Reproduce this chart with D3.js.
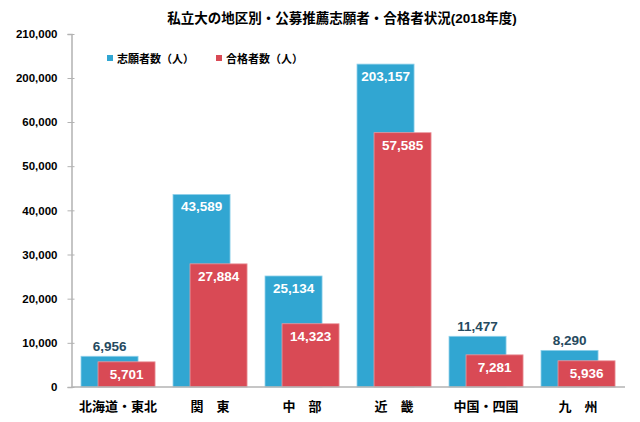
<!DOCTYPE html>
<html>
<head>
<meta charset="utf-8">
<script src="https://cdn.jsdelivr.net/npm/d3@7"></script>
<style>
  body { margin: 0; background: #fff; }
  svg { font-family: "Liberation Sans", "Noto Sans CJK JP", sans-serif; }
</style>
</head>
<body>
<div id="chart"></div>
<script>
const categories = ["北海道・東北", "関　東", "中　部", "近　畿", "中国・四国", "九　州"];
const applicants = [6956, 43589, 25134, 203157, 11477, 8290];
const passed = [5701, 27884, 14323, 57585, 7281, 5936];
const tickValues = [0, 10000, 20000, 30000, 40000, 50000, 60000, 200000, 210000];
const seriesNames = ["志願者数（人）", "合格者数（人）"];

const width = 640, height = 422;
const blue = "#31a6d2", red = "#d94a55";

const svg = d3.select("#chart").append("svg")
  .attr("width", width)
  .attr("height", height);

// broken axis: 0-60,000 linear, then one step each to 200,000 and 210,000
const y = d3.scaleLinear()
  .domain([0, 60000, 200000, 210000])
  .range([387, 122, 78, 34]);

const x = d3.scaleBand()
  .domain(categories)
  .range([72, 624])
  .padding(0);

const bw = x.bandwidth();
const barW = bw * 0.62;

// title
svg.append("text")
  .attr("x", 342)
  .attr("y", 23)
  .attr("text-anchor", "middle")
  .style("font-size", "13.5px")
  .style("font-weight", "bold")
  .text("私立大の地区別・公募推薦志願者・合格者状況(2018年度)");

// y axis
const yAxis = svg.append("g")
  .attr("transform", "translate(71.5,0)")
  .call(d3.axisLeft(y).tickValues(tickValues).tickSize(4).tickPadding(10)
    .tickFormat(d3.format(",")));
yAxis.select(".domain").attr("stroke", "#b3b3b3").attr("stroke-width", 1.5);
yAxis.selectAll(".tick line").attr("stroke", "#b3b3b3").attr("x1", 3);
yAxis.selectAll(".tick text")
  .style("font-size", "11.5px")
  .style("font-weight", "bold")
  .attr("fill", "#000");

// bars
const groups = svg.selectAll(".grp")
  .data(categories)
  .enter()
  .append("g")
  .attr("class", "grp");

groups.append("rect")
  .attr("x", (d) => x(d) + bw * 0.098)
  .attr("y", (d, i) => y(applicants[i]))
  .attr("width", barW)
  .attr("height", (d, i) => y(0) - y(applicants[i]))
  .attr("fill", blue)
  .attr("stroke", "#8fd0ea")
  .attr("stroke-width", 0.8);

groups.append("rect")
  .attr("x", (d) => x(d) + bw * 0.283)
  .attr("y", (d, i) => y(passed[i]))
  .attr("width", barW)
  .attr("height", (d, i) => y(0) - y(passed[i]))
  .attr("fill", red)
  .attr("stroke", "#eb9aa0")
  .attr("stroke-width", 0.8);

// baseline
svg.append("line")
  .attr("x1", 71.5).attr("x2", 625)
  .attr("y1", y(0)).attr("y2", y(0))
  .attr("stroke", "#b3b3b3")
  .attr("stroke-width", 1.5);

// value labels
groups.append("text")
  .attr("x", (d) => x(d) + bw * 0.098 + barW / 2)
  .attr("y", (d, i) => applicants[i] > 20000 ? y(applicants[i]) + 17 : y(applicants[i]) - 5)
  .attr("text-anchor", "middle")
  .style("font-size", "13.5px")
  .style("font-weight", "bold")
  .attr("fill", (d, i) => applicants[i] > 20000 ? "#fff" : "#264a60")
  .text((d, i) => d3.format(",")(applicants[i]));

groups.append("text")
  .attr("x", (d) => x(d) + bw * 0.283 + barW / 2)
  .attr("y", (d, i) => y(passed[i]) + 17.5)
  .attr("text-anchor", "middle")
  .style("font-size", "13.5px")
  .style("font-weight", "bold")
  .attr("fill", "#fff")
  .text((d, i) => d3.format(",")(passed[i]));

// category labels
groups.append("text")
  .attr("x", (d) => x(d) + bw / 2)
  .attr("y", 411)
  .attr("text-anchor", "middle")
  .style("font-size", "13px")
  .style("font-weight", "bold")
  .text((d) => d);

// legend
const legend = svg.selectAll(".leg")
  .data(seriesNames)
  .enter()
  .append("g")
  .attr("transform", (d, i) => `translate(${107 + i * 109},55)`);

legend.append("rect")
  .attr("width", 6).attr("height", 6)
  .attr("fill", (d, i) => (i === 0 ? blue : red));

legend.append("text")
  .attr("x", 10)
  .attr("y", 7.5)
  .style("font-size", "11px")
  .style("font-weight", "bold")
  .text((d) => d);
</script>
</body>
</html>
